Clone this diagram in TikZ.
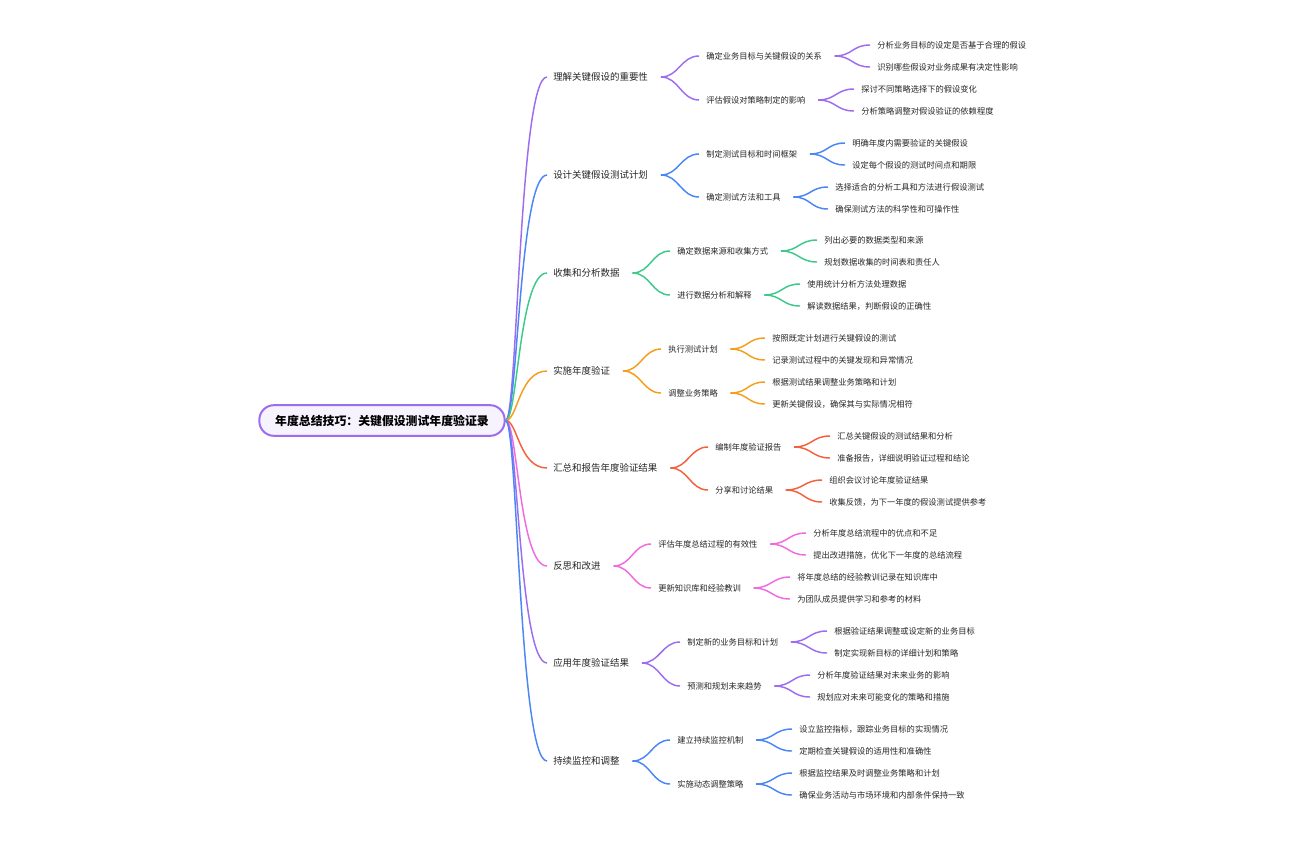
\documentclass[tikz,border=0pt]{standalone}
\usepackage{fontspec}
\newfontfamily\cjk{Noto Sans CJK SC}
\definecolor{cpu}{HTML}{9D6DF0}
\definecolor{cbl}{HTML}{4A86F5}
\definecolor{cgr}{HTML}{3DC98A}
\definecolor{cor}{HTML}{F59E1B}
\definecolor{cre}{HTML}{F5603C}
\definecolor{cpk}{HTML}{F06AE0}
\definecolor{rootfill}{HTML}{F6F3FF}
\begin{document}
\begin{tikzpicture}[x=0.75pt,y=-0.75pt,
 root/.style={draw=cpu,line width=1.5pt,fill=rootfill,rounded corners=11pt,minimum width=184pt,minimum height=23pt,font=\cjk\bfseries\fontsize{8.9}{10}\selectfont},
 l1/.style={anchor=west,inner xsep=4.5pt,inner ysep=1pt,font=\cjk\fontsize{7.1}{8}\selectfont,text=black!85},
 l2/.style={anchor=west,inner xsep=5.25pt,inner ysep=1pt,font=\cjk\fontsize{6.2}{7}\selectfont,text=black!85},
 l3/.style={anchor=west,inner xsep=5.25pt,inner ysep=1pt,font=\cjk\fontsize{6.2}{7}\selectfont,text=black!85},
 rc/.style={line width=1.1pt,draw=#1},
 cc/.style={line width=1.1pt,draw=#1},
 ck/.style={to path={.. controls +(18,0) and +(-18,0) .. (\tikztotarget)}},
 rk/.style={to path={.. controls +(12,0) and +(-28,0) .. (\tikztotarget)}}
]
\useasboundingbox (0,0) rectangle (1296,840);
\node[root] (R) at (382,420.5) {年度总结技巧：关键假设测试年度验证录};

% group 1
\node[l1] (A) at (547,77) {理解关键假设的重要性};
\node[l2] (A1) at (699,56) {确定业务目标与关键假设的关系};
\node[l2] (A2) at (699,100) {评估假设对策略制定的影响};
\node[l3] (A11) at (870,45) {分析业务目标的设定是否基于合理的假设};
\node[l3] (A12) at (870,67) {识别哪些假设对业务成果有决定性影响};
\node[l3] (A21) at (854,89) {探讨不同策略选择下的假设变化};
\node[l3] (A22) at (854,111) {分析策略调整对假设验证的依赖程度};
% group 2
\node[l1] (B) at (547,175) {设计关键假设测试计划};
\node[l2] (B1) at (699,154) {制定测试目标和时间框架};
\node[l2] (B2) at (699,197) {确定测试方法和工具};
\node[l3] (B11) at (845,143) {明确年度内需要验证的关键假设};
\node[l3] (B12) at (845,165) {设定每个假设的测试时间点和期限};
\node[l3] (B21) at (828,187) {选择适合的分析工具和方法进行假设测试};
\node[l3] (B22) at (828,209) {确保测试方法的科学性和可操作性};
% group 3
\node[l1] (C) at (547,273) {收集和分析数据};
\node[l2] (C1) at (670,251) {确定数据来源和收集方式};
\node[l2] (C2) at (670,295) {进行数据分析和解释};
\node[l3] (C11) at (817,240) {列出必要的数据类型和来源};
\node[l3] (C12) at (817,262) {规划数据收集的时间表和责任人};
\node[l3] (C21) at (800,284) {使用统计分析方法处理数据};
\node[l3] (C22) at (800,306) {解读数据结果，判断假设的正确性};
% group 4
\node[l1] (D) at (547,371) {实施年度验证};
\node[l2] (D1) at (661,349) {执行测试计划};
\node[l2] (D2) at (661,393) {调整业务策略};
\node[l3] (D11) at (765,338) {按照既定计划进行关键假设的测试};
\node[l3] (D12) at (765,360) {记录测试过程中的关键发现和异常情况};
\node[l3] (D21) at (765,382) {根据测试结果调整业务策略和计划};
\node[l3] (D22) at (765,404) {更新关键假设，确保其与实际情况相符};
% group 5
\node[l1] (E) at (547,468) {汇总和报告年度验证结果};
\node[l2] (E1) at (708,447) {编制年度验证报告};
\node[l2] (E2) at (708,490) {分享和讨论结果};
\node[l3] (E11) at (830,436) {汇总关键假设的测试结果和分析};
\node[l3] (E12) at (830,458) {准备报告，详细说明验证过程和结论};
\node[l3] (E21) at (822,480) {组织会议讨论年度验证结果};
\node[l3] (E22) at (822,502) {收集反馈，为下一年度的假设测试提供参考};
% group 6
\node[l1] (F) at (547,566) {反思和改进};
\node[l2] (F1) at (651,544) {评估年度总结过程的有效性};
\node[l2] (F2) at (651,588) {更新知识库和经验教训};
\node[l3] (F11) at (806,533) {分析年度总结流程中的优点和不足};
\node[l3] (F12) at (806,555) {提出改进措施，优化下一年度的总结流程};
\node[l3] (F21) at (790,577) {将年度总结的经验教训记录在知识库中};
\node[l3] (F22) at (790,599) {为团队成员提供学习和参考的材料};
% group 7
\node[l1] (G) at (547,663) {应用年度验证结果};
\node[l2] (G1) at (680,642) {制定新的业务目标和计划};
\node[l2] (G2) at (680,686) {预测和规划未来趋势};
\node[l3] (G11) at (827,631) {根据验证结果调整或设定新的业务目标};
\node[l3] (G12) at (827,653) {制定实现新目标的详细计划和策略};
\node[l3] (G21) at (810,675) {分析年度验证结果对未来业务的影响};
\node[l3] (G22) at (810,697) {规划应对未来可能变化的策略和措施};
% group 8
\node[l1] (H) at (547,761) {持续监控和调整};
\node[l2] (H1) at (670,740) {建立持续监控机制};
\node[l2] (H2) at (670,784) {实施动态调整策略};
\node[l3] (H11) at (792,729) {设立监控指标，跟踪业务目标的实现情况};
\node[l3] (H12) at (792,751) {定期检查关键假设的适用性和准确性};
\node[l3] (H21) at (792,773) {根据监控结果及时调整业务策略和计划};
\node[l3] (H22) at (792,795) {确保业务活动与市场环境和内部条件保持一致};

% connectors root
\foreach \n/\c in {A/cpu,B/cbl,C/cgr,D/cor,E/cre,F/cpk,G/cpu,H/cbl}
  \draw[rc=\c] (R.east) to[rk] (\n.west);
% group connectors
\foreach \p/\c in {A/cpu,B/cbl,C/cgr,D/cor,E/cre,F/cpk,G/cpu,H/cbl}{
  \draw[cc=\c] ([xshift=5pt]\p.east) to[ck] (\p1.west);
  \draw[cc=\c] ([xshift=5pt]\p.east) to[ck] (\p2.west);
  \draw[cc=\c] ([xshift=4pt]\p1.east) to[ck] (\p11.west);
  \draw[cc=\c] ([xshift=4pt]\p1.east) to[ck] (\p12.west);
  \draw[cc=\c] ([xshift=4pt]\p2.east) to[ck] (\p21.west);
  \draw[cc=\c] ([xshift=4pt]\p2.east) to[ck] (\p22.west);
}
\end{tikzpicture}
\end{document}
